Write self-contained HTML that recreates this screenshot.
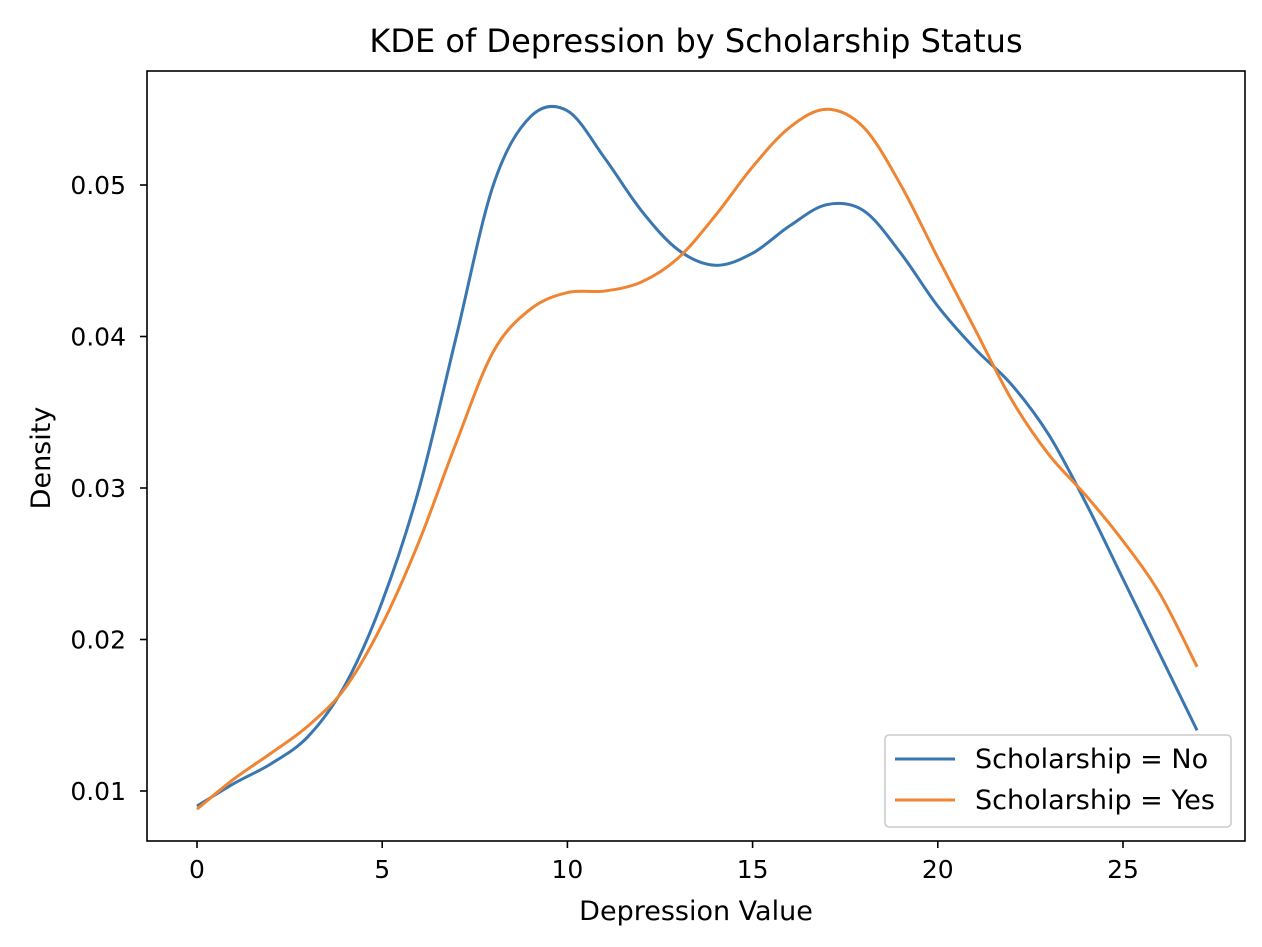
<!DOCTYPE html>
<html><head><meta charset="utf-8"><style>
body{margin:0;background:#fff}
svg text{font-family:"DejaVu Sans","Liberation Sans",sans-serif;fill:#000}
</style></head><body>
<svg id="chart" width="1262" height="942" xmlns="http://www.w3.org/2000/svg">
<rect width="1262" height="942" fill="#fff"/>
<text x="696" y="52" font-size="32" text-anchor="middle">KDE of Depression by Scholarship Status</text>
<g id="series"></g>
<rect x="147" y="71" width="1098" height="770" fill="none" stroke="#000" stroke-width="1.6"/>
<g id="xticks"></g><g id="yticks"></g>
<text x="696" y="920" font-size="27" text-anchor="middle">Depression Value</text>
<text transform="translate(50,458) rotate(-90)" font-size="27" text-anchor="middle">Density</text>
<g>
<rect x="885" y="735" width="346" height="92" rx="4" fill="#fff" stroke="#ccc" stroke-width="1.6"/>
<line x1="895" y1="759" x2="955" y2="759" stroke="#3a76b0" stroke-width="3"/>
<text x="975" y="768" font-size="27">Scholarship = No</text>
<line x1="895" y1="800" x2="955" y2="800" stroke="#ef8533" stroke-width="3"/>
<text x="975" y="809" font-size="27">Scholarship = Yes</text>
</g>
</svg>
<script>
const xValues=[0,1,2,3,4,5,6,7,8,9,10,11,12,13,14,15,16,17,18,19,20,21,22,23,24,25,26,27];
const noValues=[0.0090,0.0105,0.0118,0.0136,0.0170,0.0225,0.0300,0.0400,0.0500,0.0545,0.0549,0.0518,0.0483,0.0457,0.0447,0.0455,0.0473,0.0487,0.0483,0.0455,0.0420,0.0392,0.0368,0.0335,0.0290,0.0240,0.0190,0.0140];
const yesValues=[0.0088,0.0108,0.0125,0.0143,0.0168,0.0210,0.0265,0.0330,0.0390,0.0418,0.0429,0.0430,0.0436,0.0452,0.0480,0.0512,0.0538,0.0550,0.0538,0.0500,0.0452,0.0405,0.0358,0.0322,0.0295,0.0265,0.0230,0.0182];
const xTicks=[0,5,10,15,20,25];
const yTicks=[0.01,0.02,0.03,0.04,0.05];
const X=v=>197+v*37.04;
const Y=v=>791-(v-0.01)*15150;
const NS='http://www.w3.org/2000/svg';
function path(xs,ys){
  const p=xs.map((x,i)=>[X(x),Y(ys[i])]);
  let d='M'+p[0][0]+','+p[0][1];
  for(let i=0;i<p.length-1;i++){
    const p0=p[i-1]||p[i],p1=p[i],p2=p[i+1],p3=p[i+2]||p2;
    const c1=[p1[0]+(p2[0]-p0[0])/6,p1[1]+(p2[1]-p0[1])/6];
    const c2=[p2[0]-(p3[0]-p1[0])/6,p2[1]-(p3[1]-p1[1])/6];
    d+=` C${c1[0]},${c1[1]} ${c2[0]},${c2[1]} ${p2[0]},${p2[1]}`;
  }
  return d;
}
const g=document.getElementById('series');
const a=document.createElementNS(NS,'path');
a.setAttribute('d',path(xValues,noValues));a.setAttribute('fill','none');a.setAttribute('stroke','#3a76b0');a.setAttribute('stroke-width','3');


g.appendChild(a);
const b=document.createElementNS(NS,'path');
b.setAttribute('d',path(xValues,yesValues));b.setAttribute('fill','none');b.setAttribute('stroke','#ef8533');b.setAttribute('stroke-width','3');


g.appendChild(b);
const xt=document.getElementById('xticks');
xTicks.forEach(t=>{
  const l=document.createElementNS(NS,'line');
  l.setAttribute('x1',X(t));l.setAttribute('x2',X(t));l.setAttribute('y1',841);l.setAttribute('y2',848);l.setAttribute('stroke','#000');l.setAttribute('stroke-width','1.6');
  
  
  xt.appendChild(l);
  const s=document.createElementNS(NS,'text');
  s.setAttribute('x',X(t));s.setAttribute('y',878);s.setAttribute('font-size','25');s.setAttribute('text-anchor','middle');s.textContent=t;
  
  
  xt.appendChild(s);
});
const yt=document.getElementById('yticks');
yTicks.forEach(t=>{
  const l=document.createElementNS(NS,'line');
  l.setAttribute('x1',140);l.setAttribute('x2',147);l.setAttribute('y1',Y(t));l.setAttribute('y2',Y(t));l.setAttribute('stroke','#000');l.setAttribute('stroke-width','1.6');
  
  
  yt.appendChild(l);
  const s=document.createElementNS(NS,'text');
  s.setAttribute('x',126);s.setAttribute('y',Y(t)+9);s.setAttribute('font-size','25');s.setAttribute('text-anchor','end');s.textContent=t.toFixed(2);
  
  
  yt.appendChild(s);
});
</script>
</body></html>
